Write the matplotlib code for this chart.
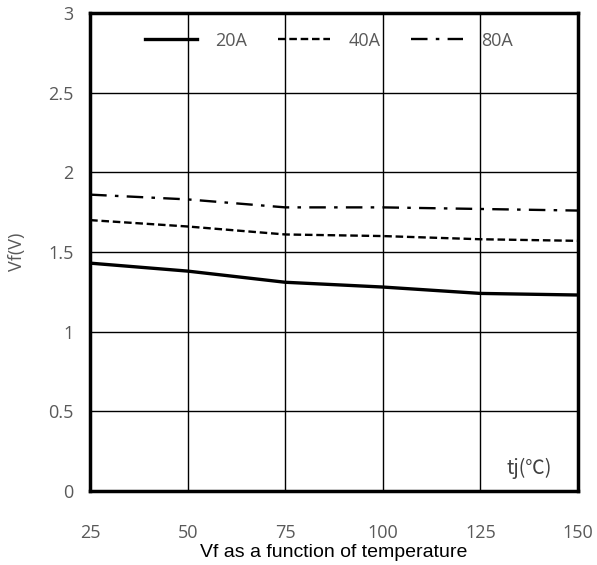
import matplotlib.pyplot as plt

temps = [25, 50, 75, 100, 125, 150]
vf_20a = [1.43, 1.38, 1.31, 1.28, 1.24, 1.23]
vf_40a = [1.70, 1.66, 1.61, 1.60, 1.58, 1.57]
vf_80a = [1.86, 1.83, 1.78, 1.78, 1.77, 1.76]
xticks = [25, 50, 75, 100, 125, 150]
yticks = [0, 0.5, 1, 1.5, 2, 2.5, 3]
ytick_labels = ['0', '0.5', '1', '1.5', '2', '2.5', '3']

gray = '#595959'
plt.rcParams['font.family'] = ['Open Sans', 'DejaVu Sans']

fig = plt.figure(figsize=(5.97, 5.65), dpi=100)
ax = fig.add_axes([0.151, 0.131, 0.817, 0.846])

ax.plot(temps, vf_20a, color='black', lw=2.4, ls='-', label='20A')
ax.plot(temps, vf_40a, color='black', lw=1.7, ls=(0, (3.2, 1.6)), label='40A')
ax.plot(temps, vf_80a, color='black', lw=1.7, ls=(0, (7, 3.5, 1.5, 3.5)), label='80A')

ax.set_xlim(25, 150)
ax.set_ylim(0, 3)
ax.set_xticks(xticks)
ax.set_yticks(yticks)
ax.set_yticklabels(ytick_labels)
ax.grid(True, color='black', lw=1)
ax.tick_params(length=0, labelcolor=gray, labelsize=13)
ax.tick_params(axis='x', pad=24)
ax.tick_params(axis='y', pad=12)
for s in ax.spines.values():
    s.set_linewidth(2.5)

ax.set_ylabel('Vf(V)', color=gray, fontsize=13, labelpad=16)
ax.set_xlabel('Vf as a function of temperature', family='Liberation Sans',
              fontsize=14, labelpad=1)

ax.text(0.947, 0.048, 'tj(℃)', transform=ax.transAxes, ha='right', va='center',
        fontsize=14, color='#404040', family=['Noto Sans CJK SC', 'DejaVu Sans'])

leg = ax.legend(loc='upper center', bbox_to_anchor=(0.49, 0.995), ncol=3,
                frameon=False, fontsize=13, handlelength=2.9, columnspacing=1.7,
                handletextpad=1.0)
for t in leg.get_texts():
    t.set_color(gray)

fig.savefig('out.png', dpi=100)
